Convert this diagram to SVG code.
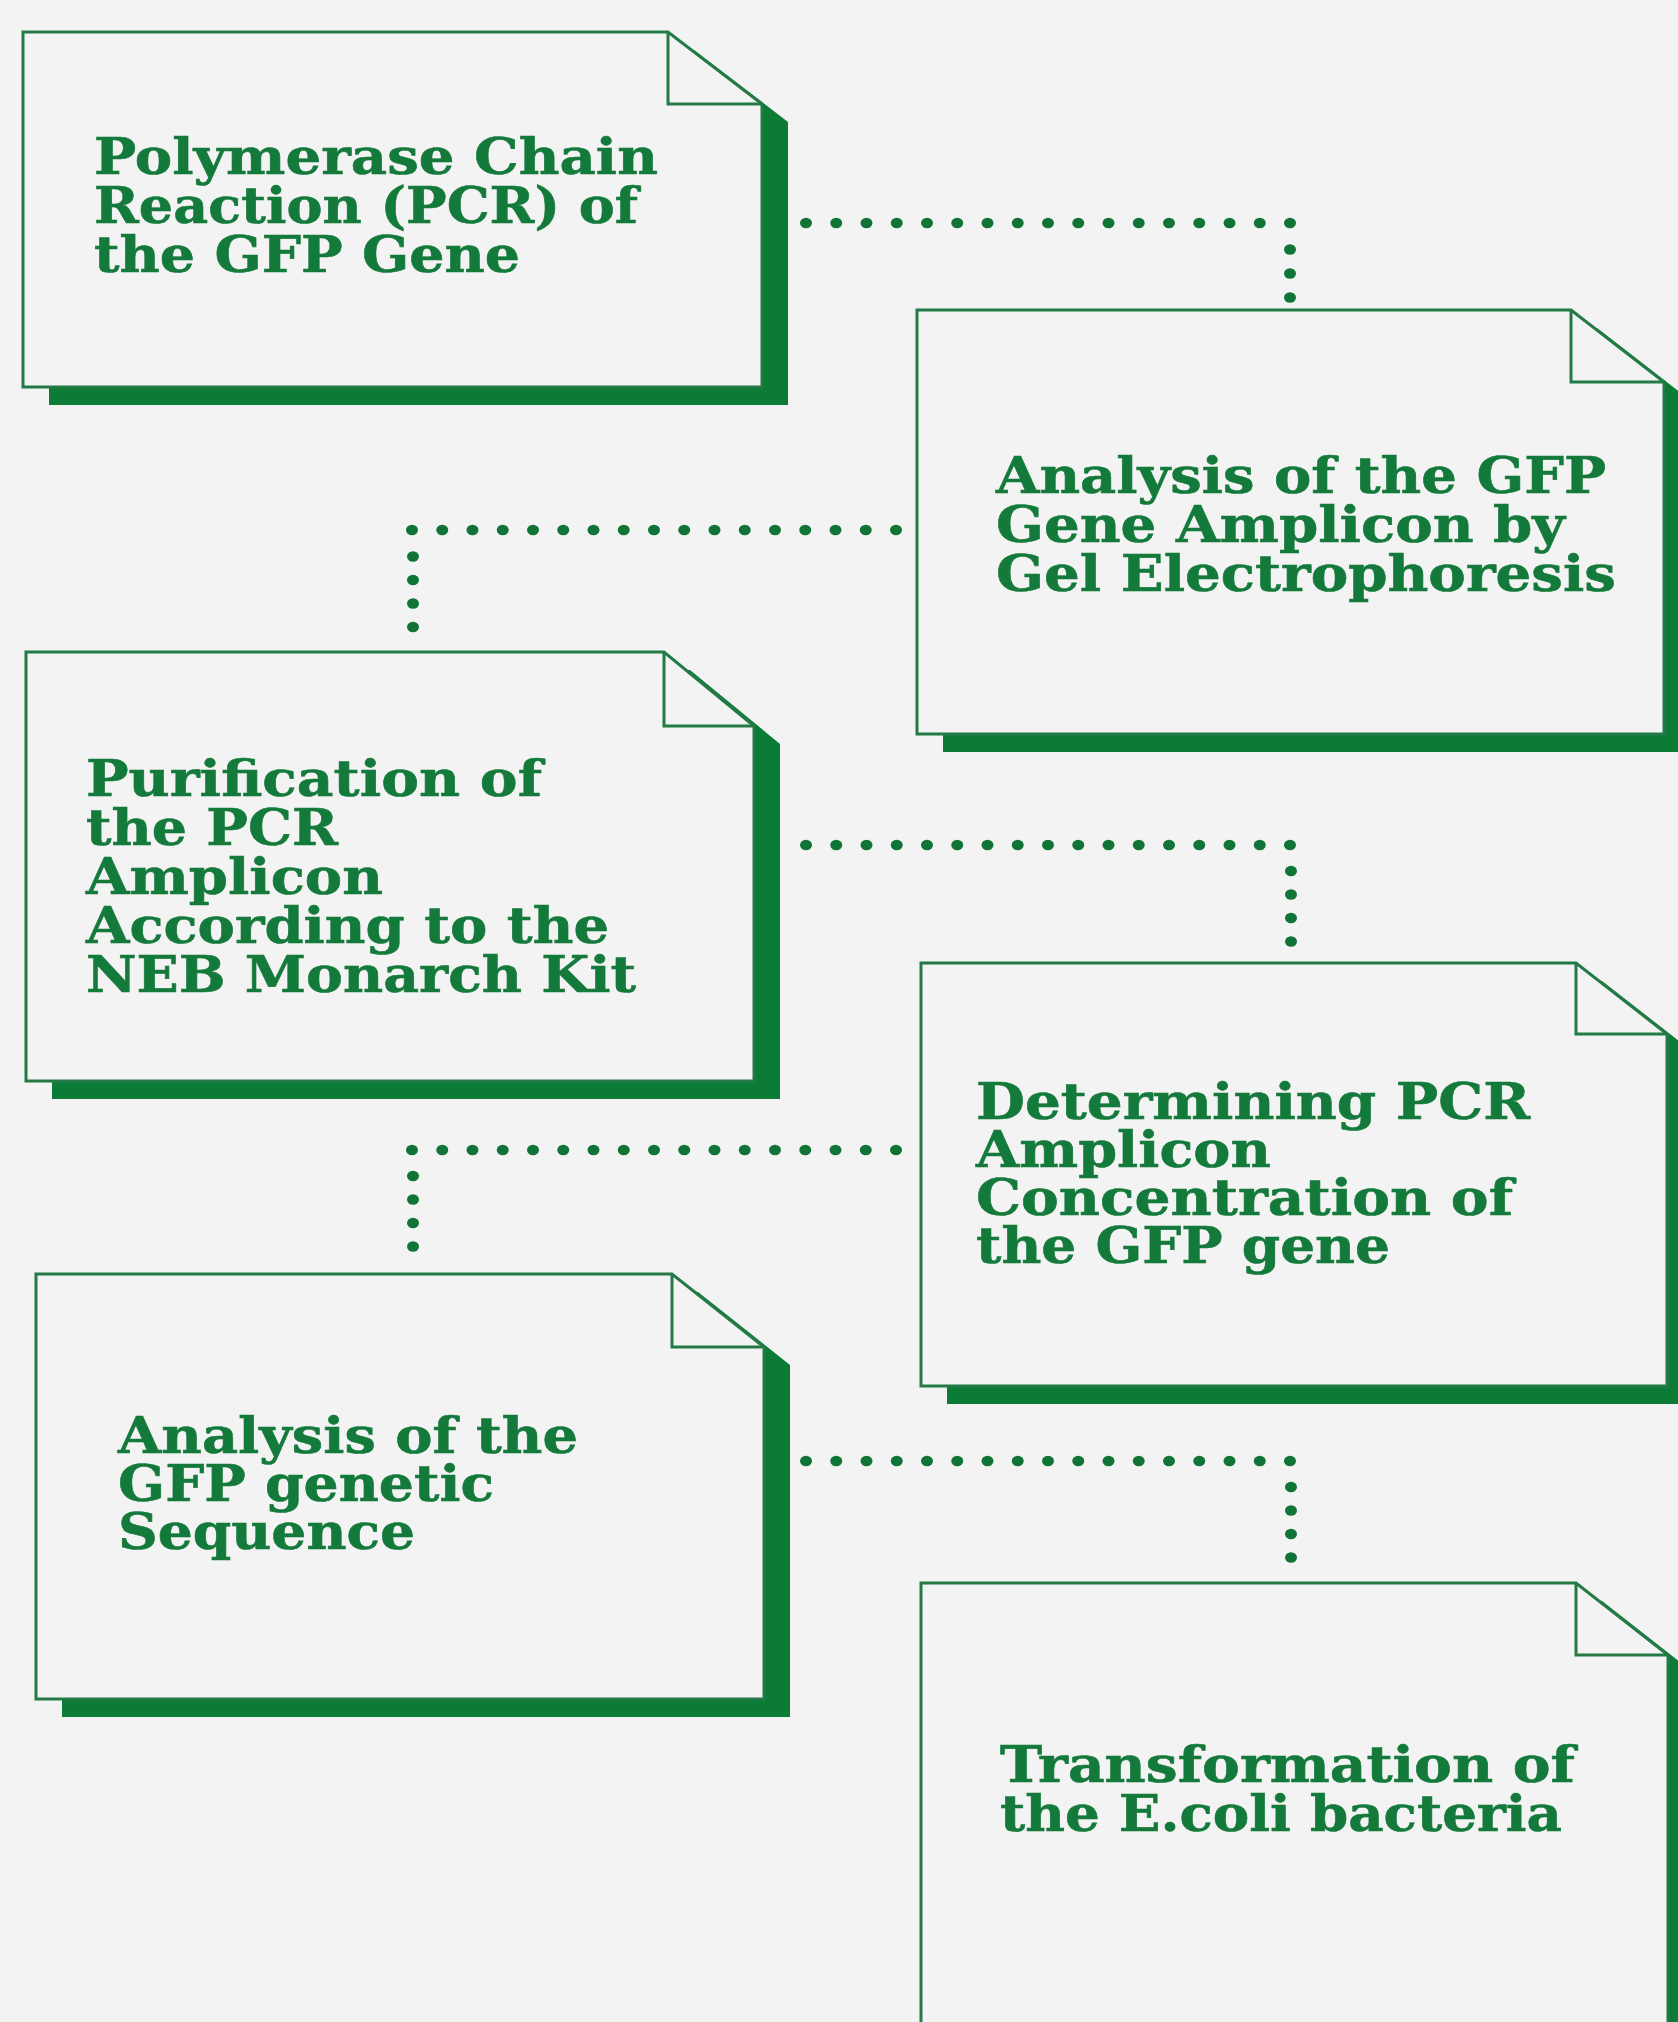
<svg xmlns="http://www.w3.org/2000/svg" width="1678" height="2022" viewBox="0 0 1678 2022">
  <style>
    .bg { fill: #f3f3f3; }
    .shadow { fill: #0c7b36; }
    .card { fill: #f3f3f3; stroke: #237a46; stroke-width: 3; stroke-linejoin: miter; }
    .fold { fill: none; stroke: #237a46; stroke-width: 3; }
    .label { font-family: "DejaVu Serif", "Liberation Serif", serif; font-weight: bold; font-size: 51px; fill: #147a3b; stroke: #147a3b; stroke-width: 0.6; }
    .dot { fill: #0f7436; }
  </style>
  <defs>
    <ellipse id="d" class="dot" cx="0" cy="0" rx="6" ry="5.2"/>
  </defs>

  <rect class="bg" x="0" y="0" width="1678" height="2022"/>

  <!-- dotted connectors between consecutive steps -->
  <g id="connectors">
    <g id="c1">
      <use href="#d" x="806" y="223"/><use href="#d" x="836.25" y="223"/><use href="#d" x="866.5" y="223"/><use href="#d" x="896.75" y="223"/>
      <use href="#d" x="927" y="223"/><use href="#d" x="957.25" y="223"/><use href="#d" x="987.5" y="223"/><use href="#d" x="1017.75" y="223"/>
      <use href="#d" x="1048" y="223"/><use href="#d" x="1078.25" y="223"/><use href="#d" x="1108.5" y="223"/><use href="#d" x="1138.75" y="223"/>
      <use href="#d" x="1169" y="223"/><use href="#d" x="1199.25" y="223"/><use href="#d" x="1229.5" y="223"/><use href="#d" x="1259.75" y="223"/>
      <use href="#d" x="1290" y="223"/>
      <use href="#d" x="1290" y="249.5"/><use href="#d" x="1290" y="273.5"/><use href="#d" x="1290" y="297.5"/>
    </g>
    <g id="c2">
      <use href="#d" x="896" y="530"/><use href="#d" x="865.75" y="530"/><use href="#d" x="835.5" y="530"/><use href="#d" x="805.25" y="530"/>
      <use href="#d" x="775" y="530"/><use href="#d" x="744.75" y="530"/><use href="#d" x="714.5" y="530"/><use href="#d" x="684.25" y="530"/>
      <use href="#d" x="654" y="530"/><use href="#d" x="623.75" y="530"/><use href="#d" x="593.5" y="530"/><use href="#d" x="563.25" y="530"/>
      <use href="#d" x="533" y="530"/><use href="#d" x="502.75" y="530"/><use href="#d" x="472.5" y="530"/><use href="#d" x="442.25" y="530"/>
      <use href="#d" x="412" y="530"/>
      <use href="#d" x="413" y="556.5"/><use href="#d" x="413" y="580"/><use href="#d" x="413" y="603.5"/><use href="#d" x="413" y="627"/>
    </g>
    <g id="c3">
      <use href="#d" x="806" y="845"/><use href="#d" x="836.25" y="845"/><use href="#d" x="866.5" y="845"/><use href="#d" x="896.75" y="845"/>
      <use href="#d" x="927" y="845"/><use href="#d" x="957.25" y="845"/><use href="#d" x="987.5" y="845"/><use href="#d" x="1017.75" y="845"/>
      <use href="#d" x="1048" y="845"/><use href="#d" x="1078.25" y="845"/><use href="#d" x="1108.5" y="845"/><use href="#d" x="1138.75" y="845"/>
      <use href="#d" x="1169" y="845"/><use href="#d" x="1199.25" y="845"/><use href="#d" x="1229.5" y="845"/><use href="#d" x="1259.75" y="845"/>
      <use href="#d" x="1290" y="845"/>
      <use href="#d" x="1291" y="871"/><use href="#d" x="1291" y="894.5"/><use href="#d" x="1291" y="918"/><use href="#d" x="1291" y="941.5"/>
    </g>
    <g id="c4">
      <use href="#d" x="896" y="1150"/><use href="#d" x="865.75" y="1150"/><use href="#d" x="835.5" y="1150"/><use href="#d" x="805.25" y="1150"/>
      <use href="#d" x="775" y="1150"/><use href="#d" x="744.75" y="1150"/><use href="#d" x="714.5" y="1150"/><use href="#d" x="684.25" y="1150"/>
      <use href="#d" x="654" y="1150"/><use href="#d" x="623.75" y="1150"/><use href="#d" x="593.5" y="1150"/><use href="#d" x="563.25" y="1150"/>
      <use href="#d" x="533" y="1150"/><use href="#d" x="502.75" y="1150"/><use href="#d" x="472.5" y="1150"/><use href="#d" x="442.25" y="1150"/>
      <use href="#d" x="412" y="1150"/>
      <use href="#d" x="413" y="1176"/><use href="#d" x="413" y="1199.5"/><use href="#d" x="413" y="1223"/><use href="#d" x="413" y="1246.5"/>
    </g>
    <g id="c5">
      <use href="#d" x="806" y="1461"/><use href="#d" x="836.25" y="1461"/><use href="#d" x="866.5" y="1461"/><use href="#d" x="896.75" y="1461"/>
      <use href="#d" x="927" y="1461"/><use href="#d" x="957.25" y="1461"/><use href="#d" x="987.5" y="1461"/><use href="#d" x="1017.75" y="1461"/>
      <use href="#d" x="1048" y="1461"/><use href="#d" x="1078.25" y="1461"/><use href="#d" x="1108.5" y="1461"/><use href="#d" x="1138.75" y="1461"/>
      <use href="#d" x="1169" y="1461"/><use href="#d" x="1199.25" y="1461"/><use href="#d" x="1229.5" y="1461"/><use href="#d" x="1259.75" y="1461"/>
      <use href="#d" x="1290" y="1461"/>
      <use href="#d" x="1291" y="1487"/><use href="#d" x="1291" y="1510.5"/><use href="#d" x="1291" y="1534"/><use href="#d" x="1291" y="1557.5"/>
    </g>
  </g>

  <!-- step 1 -->
  <g id="step-pcr">
    <path class="shadow" d="M49,50 H694 L788,122 V405 H49 Z"/>
    <path class="card" d="M23,32 H668 L762,104 V387 H23 Z"/>
    <path class="fold" d="M668,32 V104 H762"/>
    <text class="label" x="94" y="174" textLength="564" lengthAdjust="spacingAndGlyphs">Polymerase Chain</text>
    <text class="label" x="94" y="223" textLength="544" lengthAdjust="spacingAndGlyphs">Reaction (PCR) of</text>
    <text class="label" x="94" y="272" textLength="426" lengthAdjust="spacingAndGlyphs">the GFP Gene</text>
  </g>

  <!-- step 2 -->
  <g id="step-gel">
    <path class="shadow" d="M943,328 H1597 L1690,400 V752 H943 Z"/>
    <path class="card" d="M917,310 H1571 L1664,382 V734 H917 Z"/>
    <path class="fold" d="M1571,310 V382 H1664"/>
    <text class="label" x="996" y="493" textLength="610" lengthAdjust="spacingAndGlyphs">Analysis of the GFP</text>
    <text class="label" x="996" y="542" textLength="569" lengthAdjust="spacingAndGlyphs">Gene Amplicon by</text>
    <text class="label" x="996" y="591" textLength="620" lengthAdjust="spacingAndGlyphs">Gel Electrophoresis</text>
  </g>

  <!-- step 3 -->
  <g id="step-purify">
    <path class="shadow" d="M52,670 H690 L780,744 V1099 H52 Z"/>
    <path class="card" d="M26,652 H664 L754,726 V1081 H26 Z"/>
    <path class="fold" d="M664,652 V726 H754"/>
    <text class="label" x="86" y="796" textLength="456" lengthAdjust="spacingAndGlyphs">Purification of</text>
    <text class="label" x="86" y="845" textLength="252" lengthAdjust="spacingAndGlyphs">the PCR</text>
    <text class="label" x="86" y="894" textLength="297" lengthAdjust="spacingAndGlyphs">Amplicon</text>
    <text class="label" x="86" y="943" textLength="523" lengthAdjust="spacingAndGlyphs">According to the</text>
    <text class="label" x="86" y="992" textLength="550" lengthAdjust="spacingAndGlyphs">NEB Monarch Kit</text>
  </g>

  <!-- step 4 -->
  <g id="step-concentration">
    <path class="shadow" d="M947,981 H1602 L1693,1052 V1404 H947 Z"/>
    <path class="card" d="M921,963 H1576 L1667,1034 V1386 H921 Z"/>
    <path class="fold" d="M1576,963 V1034 H1667"/>
    <text class="label" x="976" y="1119" textLength="554" lengthAdjust="spacingAndGlyphs">Determining PCR</text>
    <text class="label" x="976" y="1167" textLength="295" lengthAdjust="spacingAndGlyphs">Amplicon</text>
    <text class="label" x="976" y="1215" textLength="537" lengthAdjust="spacingAndGlyphs">Concentration of</text>
    <text class="label" x="976" y="1263" textLength="414" lengthAdjust="spacingAndGlyphs">the GFP gene</text>
  </g>

  <!-- step 5 -->
  <g id="step-sequence">
    <path class="shadow" d="M62,1292 H698 L790,1365 V1717 H62 Z"/>
    <path class="card" d="M36,1274 H672 L764,1347 V1699 H36 Z"/>
    <path class="fold" d="M672,1274 V1347 H764"/>
    <text class="label" x="118" y="1453" textLength="460" lengthAdjust="spacingAndGlyphs">Analysis of the</text>
    <text class="label" x="118" y="1501" textLength="376" lengthAdjust="spacingAndGlyphs">GFP genetic</text>
    <text class="label" x="118" y="1549" textLength="297" lengthAdjust="spacingAndGlyphs">Sequence</text>
  </g>

  <!-- step 6 -->
  <g id="step-transformation">
    <path class="shadow" d="M947,1601 H1602 L1694,1673 V2080 H947 Z"/>
    <path class="card" d="M921,1583 H1576 L1668,1655 V2062 H921 Z"/>
    <path class="fold" d="M1576,1583 V1655 H1668"/>
    <text class="label" x="1000" y="1782" textLength="575" lengthAdjust="spacingAndGlyphs">Transformation of</text>
    <text class="label" x="1000" y="1831" textLength="562" lengthAdjust="spacingAndGlyphs">the E.coli bacteria</text>
  </g>
</svg>
